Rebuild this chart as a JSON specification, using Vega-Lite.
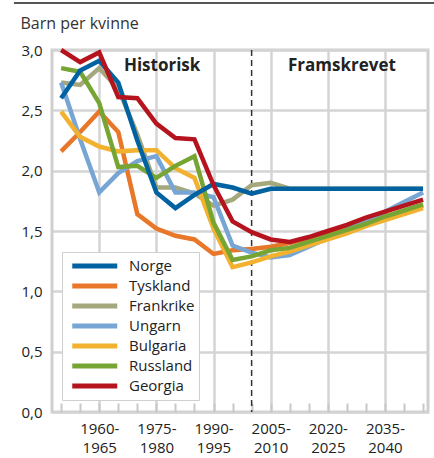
{
  "$schema": "https://vega.github.io/schema/vega-lite/v6.json",
  "width": 376,
  "height": 362,
  "autosize": {"type": "none"},
  "padding": {"left": 52, "top": 50, "right": 6, "bottom": 46},
  "background": "white",
  "config": {
    "font": "Open Sans",
    "view": {"stroke": "#cfcfcf", "strokeWidth": 3},
    "axis": {"labelFont": "Open Sans", "labelFontSize": 15, "labelColor": "#222222", "domain": false, "gridColor": "#d4d4d4", "gridWidth": 2.5}
  },
  "datasets": {
    "tfr": [
      {"land": "Frankrike", "year": 1950, "value": 2.73}, {"land": "Frankrike", "year": 1955, "value": 2.71}, {"land": "Frankrike", "year": 1960, "value": 2.85}, {"land": "Frankrike", "year": 1965, "value": 2.68}, {"land": "Frankrike", "year": 1970, "value": 2.30}, {"land": "Frankrike", "year": 1975, "value": 1.86}, {"land": "Frankrike", "year": 1980, "value": 1.86}, {"land": "Frankrike", "year": 1985, "value": 1.81}, {"land": "Frankrike", "year": 1990, "value": 1.71}, {"land": "Frankrike", "year": 1995, "value": 1.76}, {"land": "Frankrike", "year": 2000, "value": 1.88}, {"land": "Frankrike", "year": 2005, "value": 1.90}, {"land": "Frankrike", "year": 2010, "value": 1.85}, {"land": "Frankrike", "year": 2015, "value": 1.85}, {"land": "Frankrike", "year": 2020, "value": 1.85}, {"land": "Frankrike", "year": 2025, "value": 1.85}, {"land": "Frankrike", "year": 2030, "value": 1.85}, {"land": "Frankrike", "year": 2035, "value": 1.85}, {"land": "Frankrike", "year": 2040, "value": 1.85}, {"land": "Frankrike", "year": 2045, "value": 1.85},
      {"land": "Tyskland", "year": 1950, "value": 2.16}, {"land": "Tyskland", "year": 1955, "value": 2.32}, {"land": "Tyskland", "year": 1960, "value": 2.49}, {"land": "Tyskland", "year": 1965, "value": 2.32}, {"land": "Tyskland", "year": 1970, "value": 1.64}, {"land": "Tyskland", "year": 1975, "value": 1.52}, {"land": "Tyskland", "year": 1980, "value": 1.46}, {"land": "Tyskland", "year": 1985, "value": 1.43}, {"land": "Tyskland", "year": 1990, "value": 1.31}, {"land": "Tyskland", "year": 1995, "value": 1.34}, {"land": "Tyskland", "year": 2000, "value": 1.35}, {"land": "Tyskland", "year": 2005, "value": 1.37}, {"land": "Tyskland", "year": 2010, "value": 1.40}, {"land": "Tyskland", "year": 2015, "value": 1.44}, {"land": "Tyskland", "year": 2020, "value": 1.48}, {"land": "Tyskland", "year": 2025, "value": 1.53}, {"land": "Tyskland", "year": 2030, "value": 1.57}, {"land": "Tyskland", "year": 2035, "value": 1.62}, {"land": "Tyskland", "year": 2040, "value": 1.66}, {"land": "Tyskland", "year": 2045, "value": 1.71},
      {"land": "Ungarn", "year": 1950, "value": 2.73}, {"land": "Ungarn", "year": 1955, "value": 2.26}, {"land": "Ungarn", "year": 1960, "value": 1.82}, {"land": "Ungarn", "year": 1965, "value": 1.98}, {"land": "Ungarn", "year": 1970, "value": 2.08}, {"land": "Ungarn", "year": 1975, "value": 2.12}, {"land": "Ungarn", "year": 1980, "value": 1.82}, {"land": "Ungarn", "year": 1985, "value": 1.82}, {"land": "Ungarn", "year": 1990, "value": 1.78}, {"land": "Ungarn", "year": 1995, "value": 1.38}, {"land": "Ungarn", "year": 2000, "value": 1.32}, {"land": "Ungarn", "year": 2005, "value": 1.28}, {"land": "Ungarn", "year": 2010, "value": 1.30}, {"land": "Ungarn", "year": 2015, "value": 1.37}, {"land": "Ungarn", "year": 2020, "value": 1.44}, {"land": "Ungarn", "year": 2025, "value": 1.51}, {"land": "Ungarn", "year": 2030, "value": 1.59}, {"land": "Ungarn", "year": 2035, "value": 1.66}, {"land": "Ungarn", "year": 2040, "value": 1.74}, {"land": "Ungarn", "year": 2045, "value": 1.82},
      {"land": "Bulgaria", "year": 1950, "value": 2.49}, {"land": "Bulgaria", "year": 1955, "value": 2.28}, {"land": "Bulgaria", "year": 1960, "value": 2.20}, {"land": "Bulgaria", "year": 1965, "value": 2.16}, {"land": "Bulgaria", "year": 1970, "value": 2.17}, {"land": "Bulgaria", "year": 1975, "value": 2.17}, {"land": "Bulgaria", "year": 1980, "value": 2.02}, {"land": "Bulgaria", "year": 1985, "value": 1.94}, {"land": "Bulgaria", "year": 1990, "value": 1.52}, {"land": "Bulgaria", "year": 1995, "value": 1.20}, {"land": "Bulgaria", "year": 2000, "value": 1.24}, {"land": "Bulgaria", "year": 2005, "value": 1.29}, {"land": "Bulgaria", "year": 2010, "value": 1.33}, {"land": "Bulgaria", "year": 2015, "value": 1.38}, {"land": "Bulgaria", "year": 2020, "value": 1.43}, {"land": "Bulgaria", "year": 2025, "value": 1.48}, {"land": "Bulgaria", "year": 2030, "value": 1.54}, {"land": "Bulgaria", "year": 2035, "value": 1.59}, {"land": "Bulgaria", "year": 2040, "value": 1.64}, {"land": "Bulgaria", "year": 2045, "value": 1.69},
      {"land": "Russland", "year": 1950, "value": 2.85}, {"land": "Russland", "year": 1955, "value": 2.82}, {"land": "Russland", "year": 1960, "value": 2.56}, {"land": "Russland", "year": 1965, "value": 2.03}, {"land": "Russland", "year": 1970, "value": 2.04}, {"land": "Russland", "year": 1975, "value": 1.94}, {"land": "Russland", "year": 1980, "value": 2.04}, {"land": "Russland", "year": 1985, "value": 2.12}, {"land": "Russland", "year": 1990, "value": 1.57}, {"land": "Russland", "year": 1995, "value": 1.26}, {"land": "Russland", "year": 2000, "value": 1.29}, {"land": "Russland", "year": 2005, "value": 1.34}, {"land": "Russland", "year": 2010, "value": 1.36}, {"land": "Russland", "year": 2015, "value": 1.41}, {"land": "Russland", "year": 2020, "value": 1.46}, {"land": "Russland", "year": 2025, "value": 1.51}, {"land": "Russland", "year": 2030, "value": 1.56}, {"land": "Russland", "year": 2035, "value": 1.62}, {"land": "Russland", "year": 2040, "value": 1.67}, {"land": "Russland", "year": 2045, "value": 1.72},
      {"land": "Norge", "year": 1950, "value": 2.60}, {"land": "Norge", "year": 1955, "value": 2.83}, {"land": "Norge", "year": 1960, "value": 2.91}, {"land": "Norge", "year": 1965, "value": 2.73}, {"land": "Norge", "year": 1970, "value": 2.25}, {"land": "Norge", "year": 1975, "value": 1.82}, {"land": "Norge", "year": 1980, "value": 1.69}, {"land": "Norge", "year": 1985, "value": 1.80}, {"land": "Norge", "year": 1990, "value": 1.89}, {"land": "Norge", "year": 1995, "value": 1.86}, {"land": "Norge", "year": 2000, "value": 1.81}, {"land": "Norge", "year": 2005, "value": 1.85}, {"land": "Norge", "year": 2010, "value": 1.85}, {"land": "Norge", "year": 2015, "value": 1.85}, {"land": "Norge", "year": 2020, "value": 1.85}, {"land": "Norge", "year": 2025, "value": 1.85}, {"land": "Norge", "year": 2030, "value": 1.85}, {"land": "Norge", "year": 2035, "value": 1.85}, {"land": "Norge", "year": 2040, "value": 1.85}, {"land": "Norge", "year": 2045, "value": 1.85},
      {"land": "Georgia", "year": 1950, "value": 3.00}, {"land": "Georgia", "year": 1955, "value": 2.90}, {"land": "Georgia", "year": 1960, "value": 2.98}, {"land": "Georgia", "year": 1965, "value": 2.61}, {"land": "Georgia", "year": 1970, "value": 2.60}, {"land": "Georgia", "year": 1975, "value": 2.39}, {"land": "Georgia", "year": 1980, "value": 2.27}, {"land": "Georgia", "year": 1985, "value": 2.26}, {"land": "Georgia", "year": 1990, "value": 1.88}, {"land": "Georgia", "year": 1995, "value": 1.58}, {"land": "Georgia", "year": 2000, "value": 1.49}, {"land": "Georgia", "year": 2005, "value": 1.43}, {"land": "Georgia", "year": 2010, "value": 1.41}, {"land": "Georgia", "year": 2015, "value": 1.45}, {"land": "Georgia", "year": 2020, "value": 1.50}, {"land": "Georgia", "year": 2025, "value": 1.55}, {"land": "Georgia", "year": 2030, "value": 1.61}, {"land": "Georgia", "year": 2035, "value": 1.66}, {"land": "Georgia", "year": 2040, "value": 1.71}, {"land": "Georgia", "year": 2045, "value": 1.76}
    ]
  },
  "resolve": {"axis": {"x": "independent"}},
  "layer": [
    {
      "data": {"values": [{"year": 2000}]},
      "mark": {"type": "rule", "color": "#333333", "strokeWidth": 1.5, "strokeDash": [6, 4]},
      "encoding": {
        "x": {
          "field": "year", "type": "quantitative",
          "scale": {"domain": [1947.6, 2046.3], "nice": false, "zero": false},
          "axis": {
            "orient": "bottom", "title": null,
            "values": [1960, 1975, 1990, 2005, 2020, 2035],
            "ticks": false, "grid": true,
            "labelExpr": "[datum.value + '-', '' + (datum.value + 5)]",
            "labelPadding": 9, "labelLineHeight": 19, "labelAlign": "center", "labelFlush": false, "labelOverlap": false
          }
        }
      }
    },
    {
      "data": {"name": "tfr"},
      "mark": {"type": "line", "strokeWidth": 4.5},
      "encoding": {
        "x": {
          "field": "year", "type": "quantitative",
          "scale": {"domain": [1947.6, 2046.3], "nice": false, "zero": false},
          "axis": {
            "orient": "bottom", "title": null,
            "values": [1950, 1955, 1960, 1965, 1970, 1975, 1980, 1985, 1990, 1995, 2000, 2005, 2010, 2015, 2020, 2025, 2030, 2035, 2040, 2045],
            "tickSize": -9, "tickColor": "#c8c8c8", "tickWidth": 2,
            "grid": false, "labels": false
          }
        },
        "y": {
          "field": "value", "type": "quantitative",
          "scale": {"domain": [0, 3], "nice": false},
          "axis": {
            "values": [0, 0.5, 1, 1.5, 2, 2.5, 3],
            "labelExpr": "replace(format(datum.value, '.1f'), '.', ',')",
            "ticks": false, "labelPadding": 10,
            "title": "Barn per kvinne", "titleAngle": 0, "titleAlign": "left", "titleBaseline": "alphabetic",
            "titleX": -32, "titleY": -22, "titleFontSize": 16, "titleFontWeight": "normal", "titleColor": "#333333", "titleFont": "Open Sans"
          }
        },
        "color": {
          "field": "land", "type": "nominal",
          "scale": {
            "domain": ["Norge", "Tyskland", "Frankrike", "Ungarn", "Bulgaria", "Russland", "Georgia"],
            "range": ["#0062a0", "#e8772a", "#a5a77d", "#78a6d4", "#f2b12e", "#76a534", "#b5141e"]
          },
          "legend": {
            "orient": "none", "legendX": 10, "legendY": 202, "title": null,
            "symbolType": "M-0.5,0H5.5", "symbolSize": 225, "symbolStrokeWidth": 5,
            "labelFontSize": 15, "labelColor": "#222222", "labelFont": "Open Sans", "labelOffset": 43,
            "fillColor": "white", "strokeColor": "#cfcfcf", "padding": 4, "rowPadding": 0
          }
        }
      }
    },
    {
      "data": {"values": [{"label": "Historisk"}]},
      "mark": {"type": "text", "fontWeight": "bold", "fontSize": 17, "color": "#222222", "baseline": "alphabetic"},
      "encoding": {"x": {"datum": 1976.5, "axis": null}, "y": {"datum": 2.83}, "text": {"field": "label"}}
    },
    {
      "data": {"values": [{"label": "Framskrevet"}]},
      "mark": {"type": "text", "fontWeight": "bold", "fontSize": 17, "color": "#222222", "baseline": "alphabetic"},
      "encoding": {"x": {"datum": 2023.7, "axis": null}, "y": {"datum": 2.83}, "text": {"field": "label"}}
    },
    {
      "data": {"values": [{}]},
      "mark": {"type": "rule", "color": "#555555", "strokeWidth": 2},
      "encoding": {"x": {"datum": 1937.6, "axis": null}, "x2": {"datum": 2047.9}, "y": {"datum": 3.39}}
    }
  ]
}
